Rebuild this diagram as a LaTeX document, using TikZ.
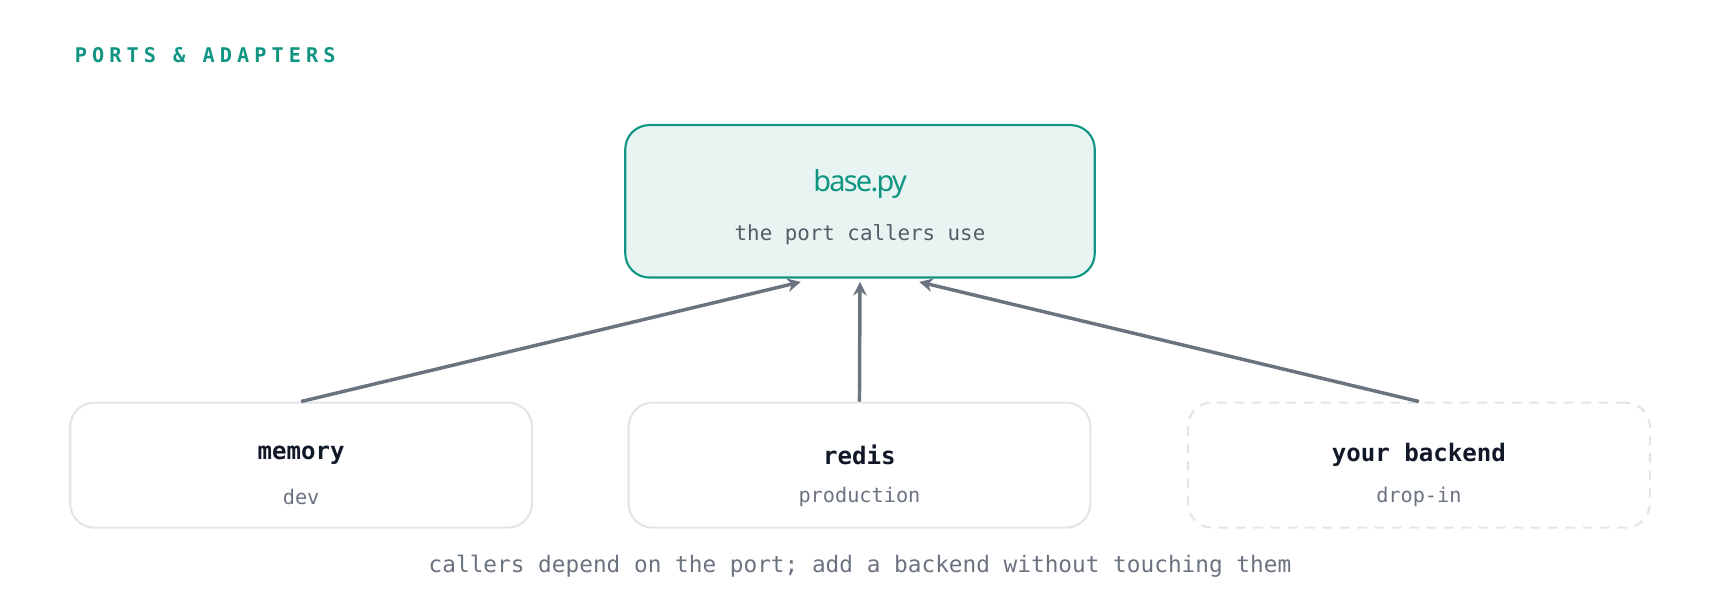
\documentclass[tikz,border=0pt]{standalone}
\usepackage{fontspec}
\setmainfont{DejaVu Sans}
\newfontfamily\monofont{DejaVu Sans Mono}
\newfontfamily\headfont[LetterSpace=25]{DejaVu Sans Mono}
\newfontfamily\portfont[LetterSpace=-6]{Noto Sans}
\usetikzlibrary{calc,arrows.meta}

\definecolor{teal1}{HTML}{0F9582}
\definecolor{tealbg}{HTML}{E8F4F2}
\definecolor{edge1}{HTML}{6B7280}
\definecolor{boxln}{HTML}{E3E5E8}
\definecolor{ink}{HTML}{111827}
\definecolor{subink}{HTML}{6B7280}

\tikzset{
  adapter/.style={draw=boxln, line width=1.1pt, rounded corners=22*0.02cm,
    minimum width=421*0.02cm, minimum height=114*0.02cm},
  dep/.style={draw=edge1, line width=1.8pt, -{Stealth[length=7pt,width=7pt]}}
}

\begin{document}
\begin{tikzpicture}[x=0.02cm,y=-0.02cm]

    \useasboundingbox (0,0) rectangle (1568,552);

    \node[anchor=west, text=teal1, font=\headfont\bfseries\fontsize{10.5}{12}\selectfont] (title) at (62,50) {PORTS \& ADAPTERS};

    \node[draw=teal1, fill=tealbg, line width=1.1pt, rounded corners=22*0.02cm,
      minimum width=428*0.02cm, minimum height=139*0.02cm] (base) at (784,183.5) {};
    \node[text=teal1, font=\portfont\bfseries\fontsize{15}{18}\selectfont] (basettl) at (784,168) {base.py};
    \node[text=subink!80!black, font=\monofont\fontsize{10.8}{13}\selectfont] (basesub) at (784,214) {the port callers use};

    \node[adapter] (mem) at (274.5,424) {};
    \node[adapter] (red) at (783.5,424) {};
    \node[adapter, dash pattern=on 5pt off 4pt] (own) at (1293.5,424) {};

    \foreach \n/\t/\s in {mem/memory/dev, red/redis/production, own/your backend/drop-in}{
      \node[text=ink, font=\monofont\bfseries\fontsize{12.5}{15}\selectfont] at ($(\n)+(0,-9)$) {\t};
      \node[text=subink, font=\monofont\fontsize{10.5}{13}\selectfont] at ($(\n)+(0,29)$) {\s};
    }

    \coordinate (inL) at (730,257);
    \coordinate (inM) at (784,257);
    \coordinate (inR) at (838,257);

    \draw[dep] (mem.north) -- (inL);
    \draw[dep] (red.north) -- (inM);
    \draw[dep] (own.north) -- (inR);

    \node[text=subink, font=\monofont\fontsize{11.8}{14}\selectfont] (note) at (784,516) {callers depend on the port; add a backend without touching them};

\end{tikzpicture}
\end{document}
